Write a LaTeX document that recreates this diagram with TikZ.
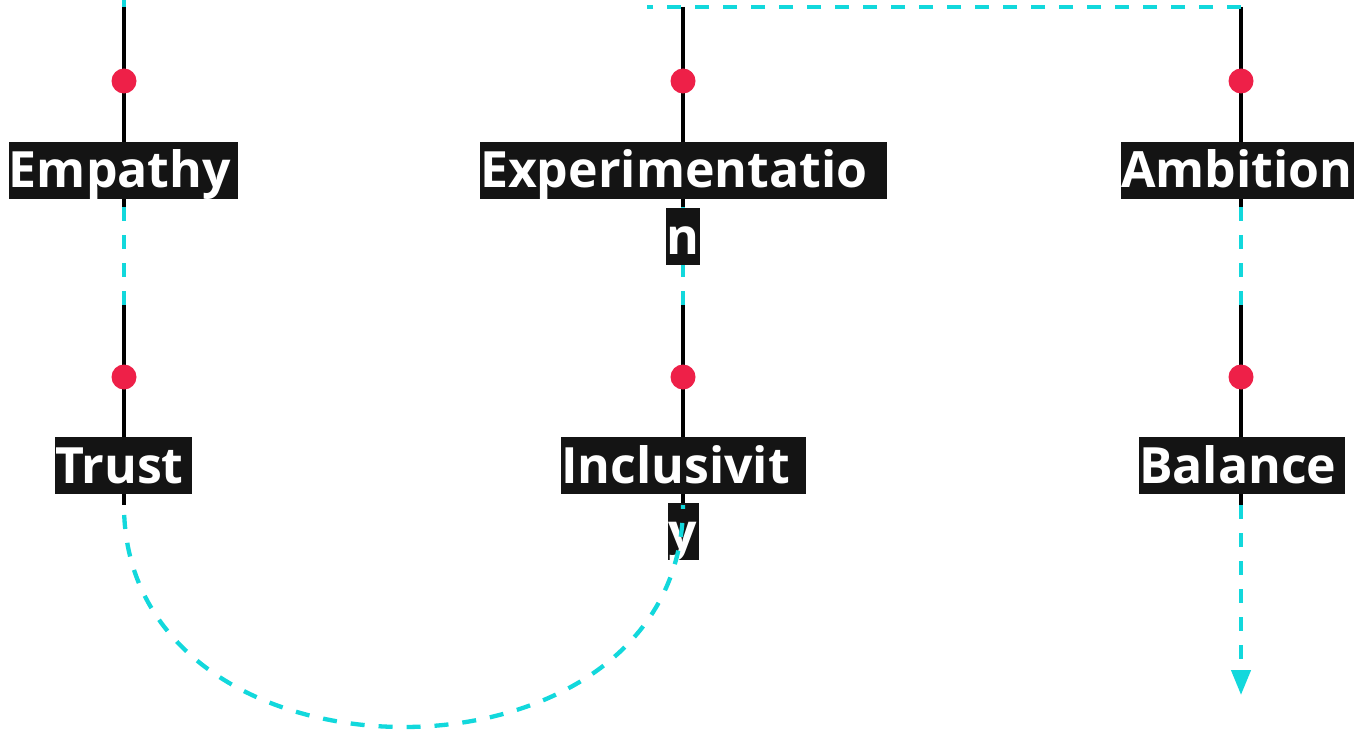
\documentclass[tikz,border=0pt]{standalone}
\usepackage{fontspec}
\setmainfont{Open Sans}
\usetikzlibrary{arrows.meta,calc}
\definecolor{dotc}{HTML}{EE2048}
\definecolor{flowc}{HTML}{12D8DC}
\definecolor{boxc}{HTML}{141414}
\begin{document}
\begin{tikzpicture}[x=1pt,y=1pt,
  stem/.style={draw=black,line width=4.3pt},
  flow/.style={draw=flowc,line width=4.3pt,dash pattern=on 14pt off 14pt},
  pin/.style={circle,fill=dotc,minimum size=25pt,inner sep=0pt},
  tag/.style={fill=boxc,text=white,font=\bfseries\fontsize{50}{50}\selectfont,
    inner xsep=0pt,inner ysep=0pt,text height=46pt,text depth=11pt,align=left},
]
\useasboundingbox (0,0) rectangle (1354,-730);
\clip (0,0) rectangle (1354,-730);
\fill[white] (0,0) rectangle (1354,-730);

% ends of each stage stem
\coordinate (e-top) at (124,-7);   \coordinate (e-bot) at (124,-207);
\coordinate (t-top) at (124,-305); \coordinate (t-bot) at (124,-505);
\coordinate (x-top) at (683,-7);   \coordinate (x-bot) at (683,-207);
\coordinate (i-top) at (683,-305); \coordinate (i-bot) at (683,-505);
\coordinate (a-top) at (1241,-7);  \coordinate (a-bot) at (1241,-207);
\coordinate (b-top) at (1241,-305);\coordinate (b-bot) at (1241,-505);
% loose ends of the flow
\coordinate (in-end) at (124,20);
\coordinate (bridge-end) at (647,-7);
\coordinate (out-end) at (1241,-695);

% stems
\foreach \s in {e,t,x,i,a,b} \draw[stem] (\s-top) -- (\s-bot);

% straight flow segments (behind the labels)
\draw[flow] (e-top) -- (in-end);
\draw[flow] (e-bot) -- (t-top);
\draw[flow] (x-bot) -- (i-top);
\draw[flow] (a-bot) -- (b-top);
\draw[flow] (a-top) -- (bridge-end);
\draw[flow,-{Triangle[length=25pt,width=19pt]}] (b-bot) -- (out-end);

% stage markers
\node[pin] (e-pin) at (124,-81) {};
\node[pin] (t-pin) at (124,-377) {};
\node[pin] (x-pin) at (683,-81) {};
\node[pin] (i-pin) at (683,-377) {};
\node[pin] (a-pin) at (1241,-81) {};
\node[pin] (b-pin) at (1241,-377) {};

% labels
\node[tag,text width=229pt] (emp)  at (123.5,-170.5) {Empathy};
\node[tag,text width=407pt] (exp1) at (683.5,-170.5) {Experimentatio};
\node[tag,text width=34pt]  (exp2) at (683,-236.5)   {n};
\node[tag,text width=240pt] (amb)  at (1241,-170.5)  {Ambition};
\node[tag,text width=137pt] (tru)  at (123.5,-465.5) {Trust};
\node[tag,text width=245pt] (inc1) at (683.5,-465.5) {Inclusivit};
\node[tag,text width=31pt]  (inc2) at (683.5,-531.5) {y};
\node[tag,text width=206pt] (bal)  at (1242,-465.5)  {Balance};

% loop from Trust round to Inclusivity
\draw[flow,dash phase=18pt] (t-bot)
  .. controls ($(t-bot)+(0,-296)$) and ($(i-bot)+(0,-296)$) .. (i-bot);
\end{tikzpicture}
\end{document}
